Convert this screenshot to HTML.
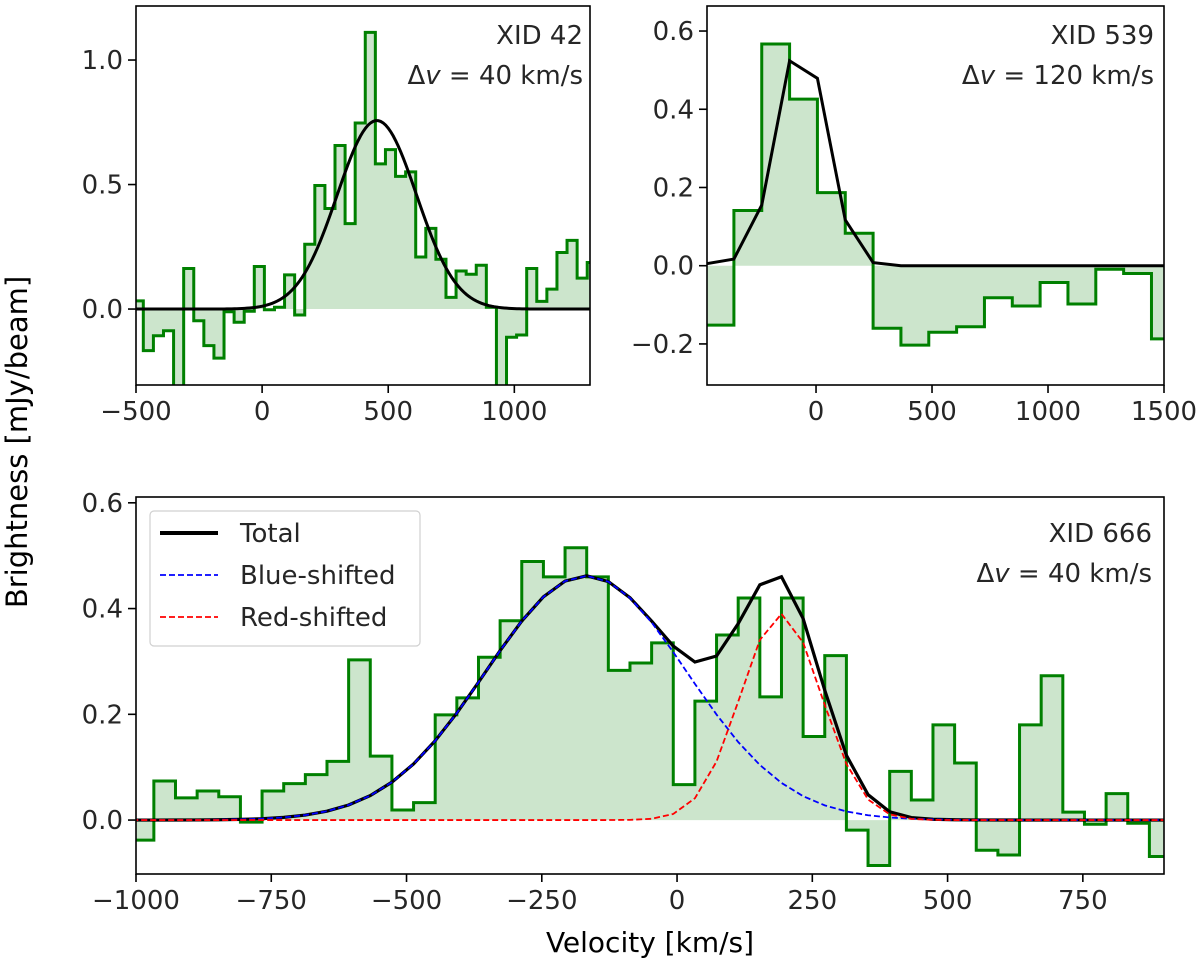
<!DOCTYPE html>
<html><head><meta charset="utf-8">
<style>
html,body{margin:0;padding:0;background:#fff;}
svg{display:block;font-family:"DejaVu Sans","Liberation Sans",sans-serif;}
</style></head>
<body>
<svg id="fig" width="1200" height="971" viewBox="0 0 1200 971" xmlns="http://www.w3.org/2000/svg">
<text x="0" y="0" transform="translate(27,442) rotate(-90)" text-anchor="middle" font-size="29" fill="#000">Brightness [mJy/beam]</text>
<text x="650" y="952" text-anchor="middle" font-size="28" fill="#000">Velocity [km/s]</text>
</svg>
<script>
// ---- Panel 1 data (XID 42), bin width 40 km/s ----
const p1Start = -511;
const p1Width = 40;
const p1Values = [0.033,-0.167,-0.107,-0.087,-0.45,0.163,-0.047,-0.147,-0.197,-0.011,-0.053,-0.009,0.171,-0.003,0.007,0.137,-0.024,0.26,0.496,0.404,0.657,0.343,0.747,1.111,0.583,0.64,0.533,0.551,0.209,0.324,0.2,0.047,0.153,0.14,0.176,0.007,-0.45,-0.113,-0.104,0.163,0.031,0.08,0.227,0.276,0.124,0.187];
const p1Fit = [0.757, 455, 157]; // amplitude, centre, sigma
const p1XTicks = [-500,0,500,1000];
const p1YTicks = [0.0,0.5,1.0];
const p1YLabels = ["0.0","0.5","1.0"];

// ---- Panel 2 data (XID 539), bin width 120 km/s ----
const p2Start = -474;
const p2Width = 120;
const p2Values = [-0.152,0.141,0.567,0.426,0.187,0.083,-0.16,-0.203,-0.17,-0.156,-0.082,-0.103,-0.043,-0.098,-0.009,-0.02,-0.187];
const p2FitX = [-474,-354,-234,-114,6,126,246,366,486,606,726,846,966,1086,1206,1326,1446,1566];
const p2FitY = [0.005,0.017,0.155,0.524,0.479,0.117,0.008,0.0,0,0,0,0,0,0,0,0,0,0];
const p2XTicks = [0,500,1000,1500];
const p2YTicks = [-0.2,0.0,0.2,0.4,0.6];
const p2YLabels = ["\u22120.2","0.0","0.2","0.4","0.6"];

// ---- Panel 3 data (XID 666), bin width 40 km/s ----
const p3Start = -1007;
const p3Width = 40;
const p3Values = [-0.038,0.074,0.042,0.055,0.044,-0.004,0.055,0.069,0.086,0.111,0.303,0.121,0.019,0.033,0.199,0.231,0.308,0.377,0.489,0.46,0.515,0.46,0.283,0.297,0.335,0.067,0.225,0.35,0.42,0.233,0.42,0.158,0.311,-0.019,-0.086,0.092,0.038,0.18,0.108,-0.057,-0.066,0.18,0.273,0.015,-0.008,0.05,-0.006,-0.069];
const p3Blue = [0.462, -168, 186];
const p3Red = [0.39, 192, 75];
const p3XTicks = [-1000,-750,-500,-250,0,250,500,750];
const p3XLabels = ["\u22121000","\u2212750","\u2212500","\u2212250","0","250","500","750"];
const p3YTicks = [0.0,0.2,0.4,0.6];
const p3YLabels = ["0.0","0.2","0.4","0.6"];

const NS = "http://www.w3.org/2000/svg";
const svg = document.getElementById('fig');
const FS = 26;
function mk(tag, attrs, parent){
  const e = document.createElementNS(NS, tag);
  for (const k in attrs) e.setAttribute(k, attrs[k]);
  (parent||svg).appendChild(e);
  return e;
}
function gauss(p, x){ return p[0]*Math.exp(-(x-p[1])*(x-p[1])/(2*p[2]*p[2])); }

function makePanel(name, box, xd, yd){
  const g = mk('g', {});
  
  
  const cid = name + '-clip';
  const cp = mk('clipPath', {id: cid}, g);
  mk('rect', {x: box.l, y: box.t, width: box.r-box.l, height: box.b-box.t}, cp);
  const plot = mk('g', {'clip-path': 'url(#'+cid+')'}, g);
  const sx = v => box.l + (v - xd[0]) / (xd[1]-xd[0]) * (box.r-box.l);
  const sy = v => box.b - (v - yd[0]) / (yd[1]-yd[0]) * (box.b-box.t);
  return {g, plot, sx, sy, box};
}

function drawHist(P, start, width, vals, name){
  const {sx, sy, plot} = P;
  let d = '', f = '';
  const y0 = sy(0);
  vals.forEach((v,i) => {
    const x0 = sx(start + i*width), x1 = sx(start + (i+1)*width), y = sy(v);
    d += (i===0 ? 'M'+x0+','+y : 'L'+x0+','+y) + 'L'+x1+','+y;
    f += 'M'+x0+','+y0+'L'+x0+','+y+'L'+x1+','+y+'L'+x1+','+y0+'Z';
  });
  const fill = mk('path', {d: f, fill: '#cce5cc', stroke: 'none'}, plot);
  
  
  const line = mk('path', {d: d, fill: 'none', stroke: '#008000', 'stroke-width': 3}, plot);
  
  
}

function drawLine(P, xs, ys, attrs, name){
  const pts = xs.map((x,i) => P.sx(x).toFixed(2)+','+P.sy(ys[i]).toFixed(2)).join(' ');
  const a = Object.assign({points: pts, fill: 'none'}, attrs);
  const l = mk('polyline', a, P.plot);
  
  
}

function drawAxes(P, xt, xl, yt, yl){
  const {g, sx, sy, box} = P;
  const fr = mk('rect', {x: box.l, y: box.t, width: box.r-box.l, height: box.b-box.t, fill: 'none', stroke: '#000', 'stroke-width': 1.6}, g);
  
  
  xt.forEach((v,i) => {
    const x = sx(v);
    mk('line', {x1: x, x2: x, y1: box.b, y2: box.b+8, stroke: '#000', 'stroke-width': 1.6}, g);
    const t = mk('text', {x: x, y: box.b+35, 'text-anchor': 'middle', 'font-size': FS, fill: '#262626'}, g);
    t.textContent = xl[i];
    
    
  });
  yt.forEach((v,i) => {
    const y = sy(v);
    mk('line', {x1: box.l-8, x2: box.l, y1: y, y2: y, stroke: '#000', 'stroke-width': 1.6}, g);
    const t = mk('text', {x: box.l-13, y: y+9, 'text-anchor': 'end', 'font-size': FS, fill: '#262626'}, g);
    t.textContent = yl[i];
    
    
  });
}

function annot(P, x, y1, lines){
  lines.forEach((s,i) => {
    const t = mk('text', {x: x, y: y1 + i*40, 'text-anchor': 'end', 'font-size': FS, fill: '#262626'}, P.g);
    t.innerHTML = s;
    
    
  });
}

// Panel 1
const P1 = makePanel('panel-xid-42', {l:136, r:590, t:6, b:385}, [-500,1300], [-0.305,1.217]);
drawHist(P1, p1Start, p1Width, p1Values, 'xid42-spectrum');
const p1fx = [], p1fy = [];
for (let x = -500; x <= 1300; x += 10){ p1fx.push(x); p1fy.push(gauss(p1Fit, x)); }
drawLine(P1, p1fx, p1fy, {stroke: '#000', 'stroke-width': 3}, 'xid42-gaussian-fit');
drawAxes(P1, p1XTicks, p1XTicks.map(v => v<0 ? '\u2212'+(-v) : ''+v), p1YTicks, p1YLabels);
annot(P1, 583, 44, ['XID 42', '\u0394<tspan font-style="italic">v</tspan> = 40 km/s']);

// Panel 2
const P2 = makePanel('panel-xid-539', {l:707, r:1164, t:6, b:385}, [-470,1500], [-0.305,0.664]);
drawHist(P2, p2Start, p2Width, p2Values, 'xid539-spectrum');
drawLine(P2, p2FitX, p2FitY, {stroke: '#000', 'stroke-width': 3}, 'xid539-fit');
drawAxes(P2, p2XTicks, p2XTicks.map(v => ''+v), p2YTicks, p2YLabels);
annot(P2, 1154, 44, ['XID 539', '\u0394<tspan font-style="italic">v</tspan> = 120 km/s']);

// Panel 3
const P3 = makePanel('panel-xid-666', {l:136, r:1164, t:497, b:874}, [-1000,900], [-0.102,0.611]);
drawHist(P3, p3Start, p3Width, p3Values, 'xid666-spectrum');
const p3x = [], p3b = [], p3r = [], p3t = [];
for (let x = -1007; x <= 913; x += 40){ p3x.push(x); p3b.push(gauss(p3Blue,x)); p3r.push(gauss(p3Red,x)); p3t.push(gauss(p3Blue,x)+gauss(p3Red,x)); }
drawLine(P3, p3x, p3t, {stroke: '#000', 'stroke-width': 3.2}, 'total-fit-line');
drawLine(P3, p3x, p3b, {stroke: '#0000ff', 'stroke-width': 1.8, 'stroke-dasharray': '6,3'}, 'blue-shifted-line');
drawLine(P3, p3x, p3r, {stroke: '#ff0000', 'stroke-width': 1.8, 'stroke-dasharray': '6,3'}, 'red-shifted-line');
drawAxes(P3, p3XTicks, p3XLabels, p3YTicks, p3YLabels);
annot(P3, 1152, 542, ['XID 666', '\u0394<tspan font-style="italic">v</tspan> = 40 km/s']);

// Legend
const lg = mk('g', {});


mk('rect', {x: 150, y: 511, width: 270, height: 135, rx: 4, fill: '#fff', 'fill-opacity': 0.8, stroke: '#d0d0d0', 'stroke-width': 1.2}, lg);
const legItems = [['Total','#000',4,'none'],['Blue-shifted','#0000ff',1.8,'6,3'],['Red-shifted','#ff0000',1.8,'6,3']];
legItems.forEach((it,i) => {
  const y = 533 + i*42;
  const e = mk('g', {}, lg);
  
  
  mk('line', {x1: 160, x2: 218, y1: y, y2: y, stroke: it[1], 'stroke-width': it[2], 'stroke-dasharray': it[3]}, e);
  const t = mk('text', {x: 240, y: y+9, 'font-size': FS, fill: '#262626'}, e);
  t.textContent = it[0];
});
</script>
</body></html>
